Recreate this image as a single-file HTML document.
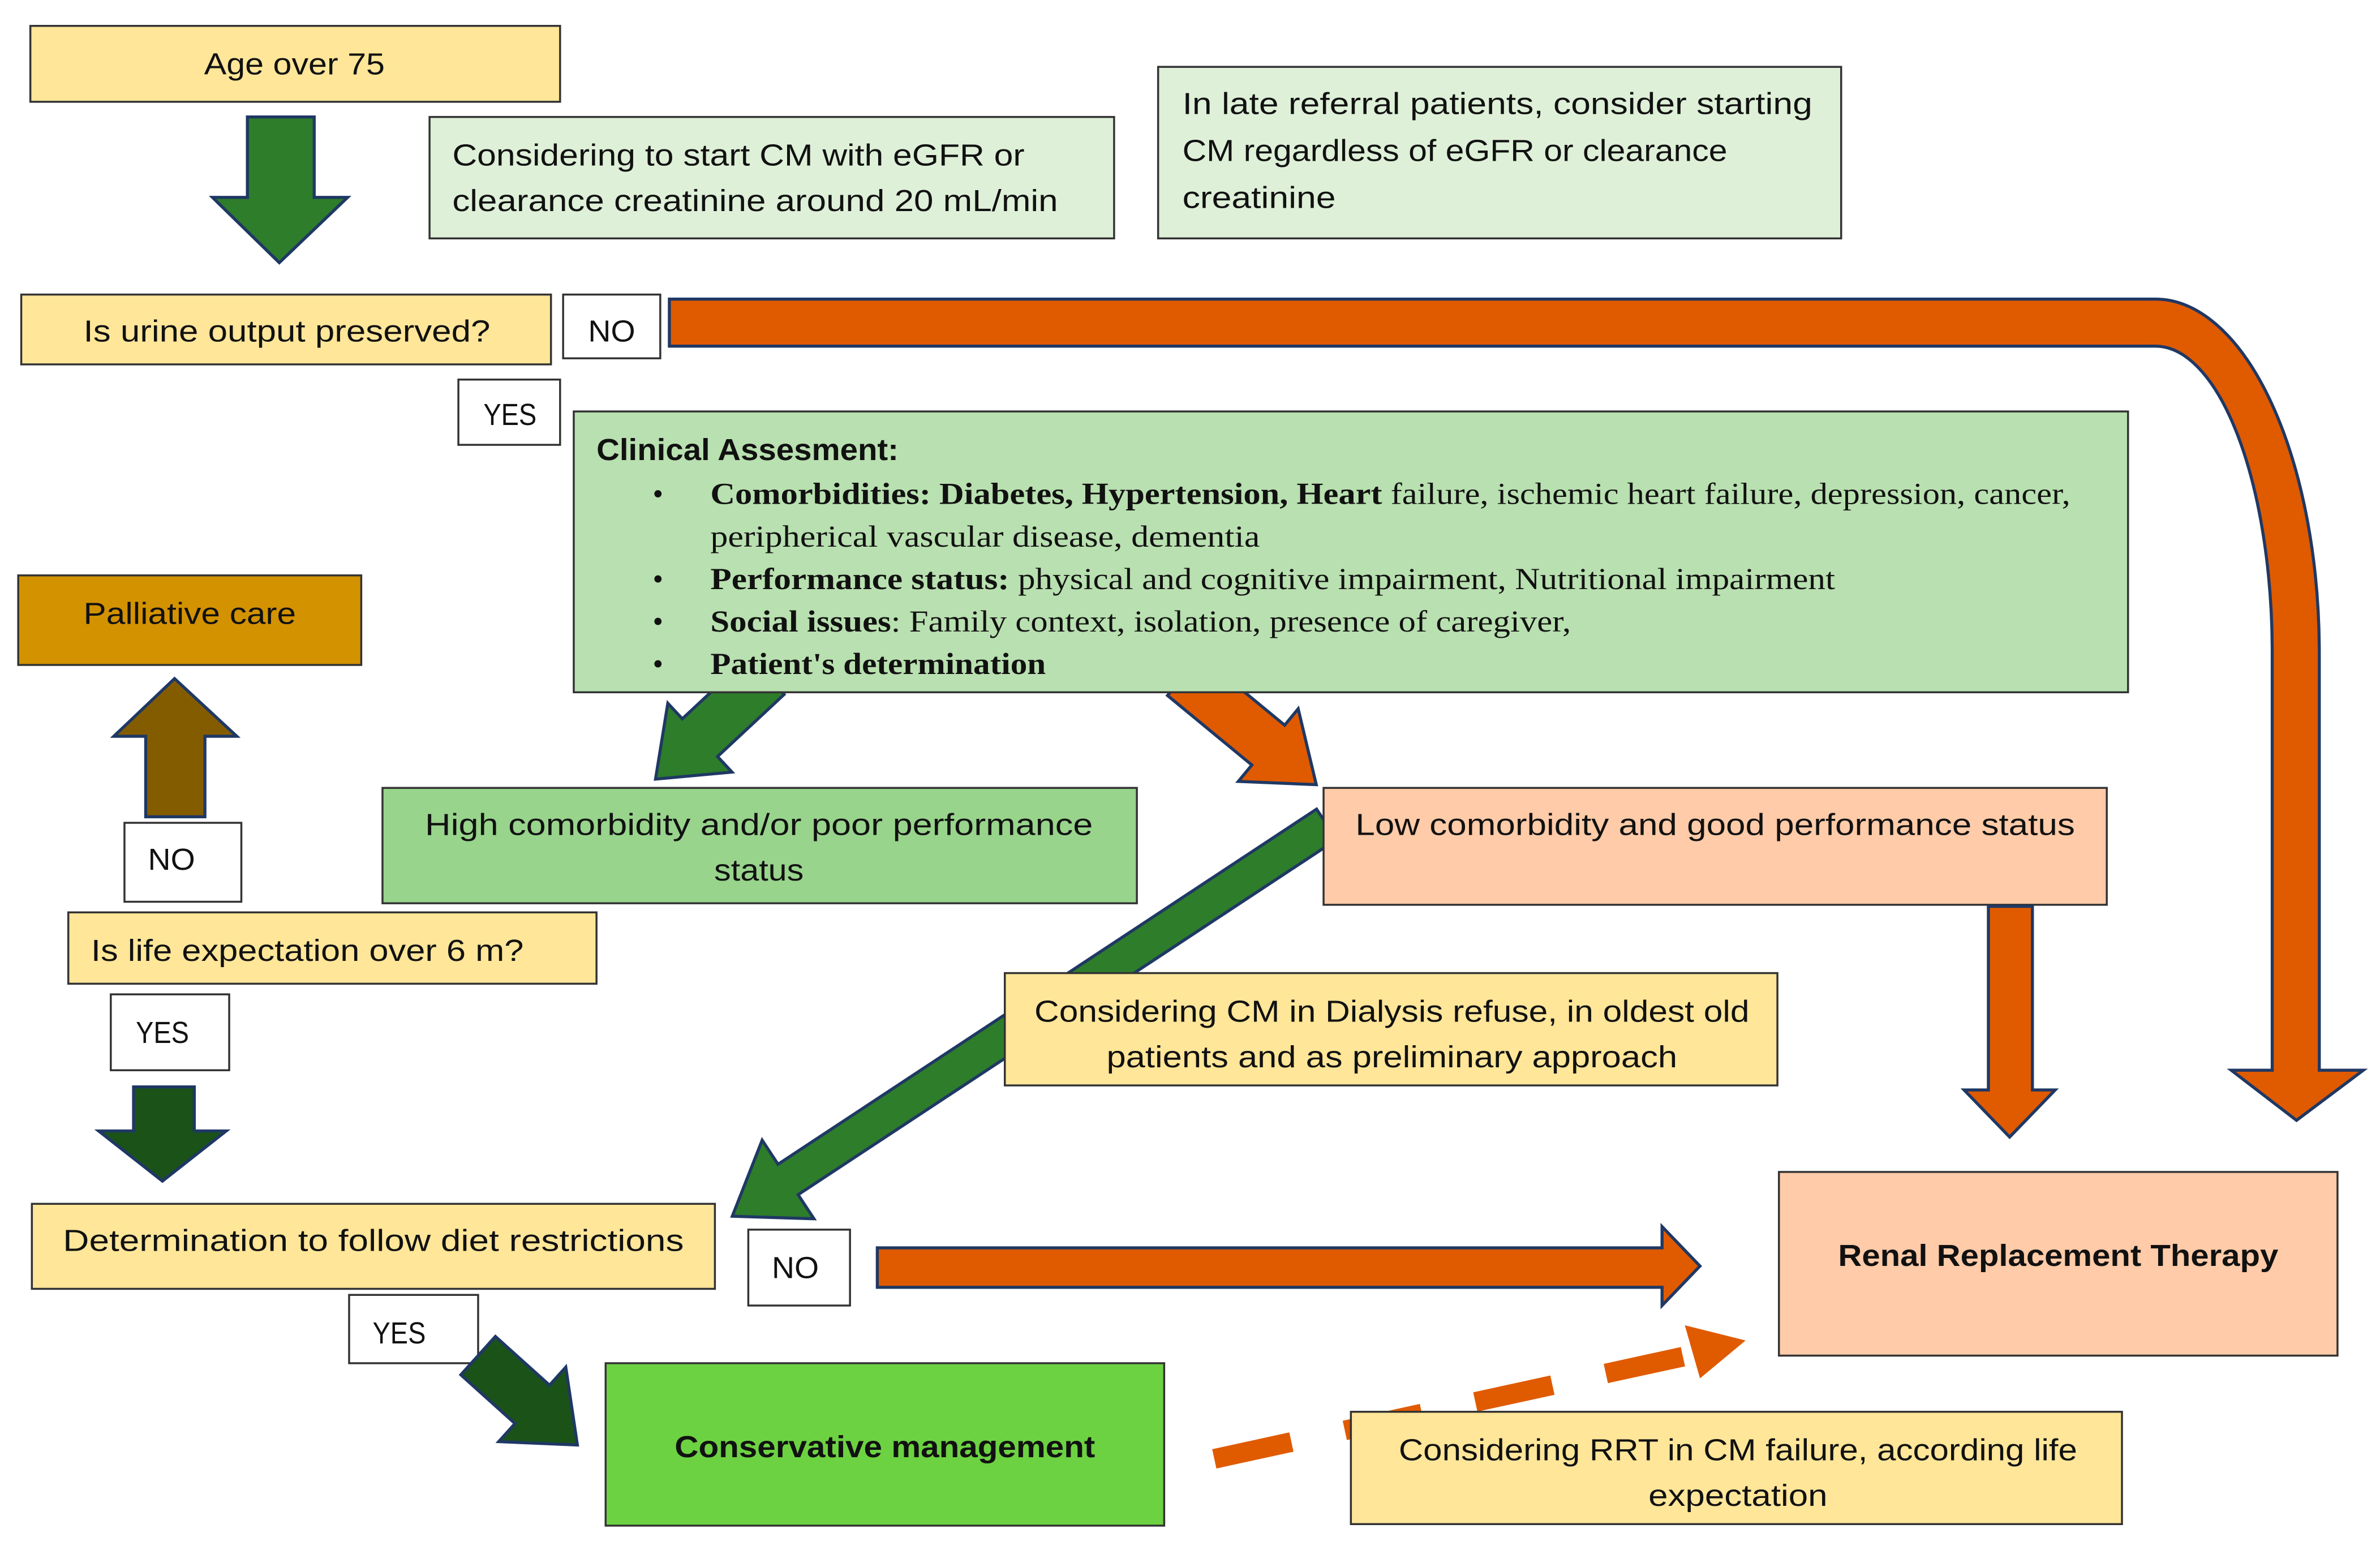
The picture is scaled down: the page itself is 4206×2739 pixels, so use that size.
<!DOCTYPE html>
<html><head><meta charset="utf-8"><style>
html,body{margin:0;padding:0;background:#fff;}
svg{display:block;}
text{font-family:"Liberation Sans",sans-serif;font-size:20px;fill:#111;}
.s{font-family:"Liberation Serif",serif;font-size:20px;}
.b{font-weight:bold;}
</style></head><body>
<svg width="4206" height="2739" viewBox="0 0 1568 1021" xmlns="http://www.w3.org/2000/svg">
<g stroke="#333" stroke-width="1.3">
<!-- Orange big curved arrow -->
<path d="M441,197 H1420 A108,233 0 0 1 1528,430 V705 H1557 L1513,738 L1470,705 H1497 V430 A77,202 0 0 0 1420,228 H441 Z" fill="#E05A00" stroke="#1F3864" stroke-width="2"/>
<!-- Age over 75 -->
<rect x="20" y="17" width="349" height="50" fill="#FFE699"/>
<polygon points="163,77 207,77 207,130 229,130 184,173 140,130 163,130" fill="#2E7D2A" stroke="#1F3864" stroke-width="2"/>
<rect x="283" y="77" width="451" height="80" fill="#DEF0D8"/>
<rect x="763" y="44" width="450" height="113" fill="#DEF0D8"/>
<rect x="14" y="194" width="349" height="46" fill="#FFE699"/>
<rect x="371" y="194" width="64" height="42" fill="#fff"/>
<rect x="302" y="250" width="67" height="43" fill="#fff"/>
<!-- arrows from clinical box -->
<g transform="translate(505,445) rotate(137)"><polygon points="0,-17 60,-17 60,-31 100,0 60,31 60,17 0,17" fill="#2E7D2A" stroke="#1F3864" stroke-width="2"/></g>
<g transform="translate(780,445) rotate(39.5)"><polygon points="0,-17 72,-17 72,-31 113,0 72,31 72,17 0,17" fill="#E05A00" stroke="#1F3864" stroke-width="2"/></g>
<rect x="378" y="271" width="1024" height="185" fill="#B9E0B0"/>
<rect x="12" y="379" width="226" height="59" fill="#D39200"/>
<polygon points="115,447 156,485 135,485 135,538 96,538 96,485 75,485" fill="#845C00" stroke="#1F3864" stroke-width="2"/>
<rect x="82" y="542" width="77" height="52" fill="#fff"/>
<rect x="252" y="519" width="497" height="76" fill="#98D48C"/>
<!-- long green arrow -->
<g transform="translate(874,543) rotate(146.6)"><polygon points="0,-12 425,-12 425,-31 469,0 425,31 425,12 0,12" fill="#2E7D2A" stroke="#1F3864" stroke-width="2"/></g>
<rect x="872" y="519" width="516" height="77" fill="#FFCBA8"/>
<rect x="662" y="641" width="509" height="74" fill="#FFE699"/>
<polygon points="1310,597 1339,597 1339,718 1354,718 1324,749 1294,718 1310,718" fill="#E05A00" stroke="#1F3864" stroke-width="2"/>
<rect x="45" y="601" width="348" height="47" fill="#FFE699"/>
<rect x="73" y="655" width="78" height="50" fill="#fff"/>
<polygon points="88,716 128,716 128,745 149,745 107,778 65,745 88,745" fill="#1B5218" stroke="#1F3864" stroke-width="2"/>
<rect x="21" y="793" width="450" height="56" fill="#FFE699"/>
<rect x="493" y="810" width="67" height="50" fill="#fff"/>
<polygon points="578,822 1095,822 1095,808 1120,834 1095,860 1095,848 578,848" fill="#E05A00" stroke="#1F3864" stroke-width="2"/>
<rect x="1172" y="772" width="368" height="121" fill="#FFCBA8"/>
<rect x="230" y="853" width="85" height="45" fill="#fff"/>
<g transform="translate(315,893) rotate(42)"><polygon points="0,-17 48,-17 48,-33 88,0 48,33 48,17 0,17" fill="#1B5218" stroke="#1F3864" stroke-width="2"/></g>
<rect x="399" y="898" width="368" height="107" fill="#6CD242"/>
<!-- dashed arrow -->
<line x1="800" y1="961" x2="1112" y2="893" stroke="#E05A00" stroke-width="13" stroke-dasharray="52,36" stroke-linecap="butt"/>
<polygon points="1110,873 1150,883 1120,908" fill="#E05A00" stroke="none"/>
<rect x="890" y="930" width="508" height="74" fill="#FFE699"/>
</g>

<text x="194" y="49" text-anchor="middle" textLength="119" lengthAdjust="spacingAndGlyphs">Age over 75</text>
<text x="298" y="109" textLength="377" lengthAdjust="spacingAndGlyphs">Considering to start CM with eGFR or</text>
<text x="298" y="139" textLength="399" lengthAdjust="spacingAndGlyphs">clearance creatinine around 20 mL/min</text>
<text x="779" y="75" textLength="415" lengthAdjust="spacingAndGlyphs">In late referral patients, consider starting</text>
<text x="779" y="106" textLength="359" lengthAdjust="spacingAndGlyphs">CM regardless of eGFR or clearance</text>
<text x="779" y="137" textLength="101" lengthAdjust="spacingAndGlyphs">creatinine</text>
<text x="189" y="225" text-anchor="middle" textLength="268" lengthAdjust="spacingAndGlyphs">Is urine output preserved?</text>
<text x="403" y="225" text-anchor="middle" textLength="31" lengthAdjust="spacingAndGlyphs">NO</text>
<text x="336" y="280" text-anchor="middle" textLength="35" lengthAdjust="spacingAndGlyphs">YES</text>
<text x="393" y="303" class="b" textLength="199" lengthAdjust="spacingAndGlyphs">Clinical Assesment:</text>
<g class="s">
<text x="430" y="332" class="s">•</text><text x="430" y="388" class="s">•</text><text x="430" y="416" class="s">•</text><text x="430" y="444" class="s">•</text>
<text x="468" y="332" class="s" textLength="896" lengthAdjust="spacingAndGlyphs"><tspan class="b">Comorbidities: Diabetes, Hypertension, Heart</tspan> failure, ischemic heart failure, depression, cancer,</text>
<text x="468" y="360" class="s" textLength="362" lengthAdjust="spacingAndGlyphs">peripherical vascular disease, dementia</text>
<text x="468" y="388" class="s" textLength="741" lengthAdjust="spacingAndGlyphs"><tspan class="b">Performance status:</tspan> physical and cognitive impairment, Nutritional impairment</text>
<text x="468" y="416" class="s" textLength="567" lengthAdjust="spacingAndGlyphs"><tspan class="b">Social issues</tspan>: Family context, isolation, presence of caregiver,</text>
<text x="468" y="444" class="s b" textLength="221" lengthAdjust="spacingAndGlyphs">Patient's determination</text>
</g>
<text x="125" y="411" text-anchor="middle" textLength="140" lengthAdjust="spacingAndGlyphs">Palliative care</text>
<text x="113" y="573" text-anchor="middle" textLength="31" lengthAdjust="spacingAndGlyphs">NO</text>
<text x="500" y="550" text-anchor="middle" textLength="440" lengthAdjust="spacingAndGlyphs">High comorbidity and/or poor performance</text>
<text x="500" y="580" text-anchor="middle" textLength="59" lengthAdjust="spacingAndGlyphs">status</text>
<text x="1130" y="550" text-anchor="middle" textLength="474" lengthAdjust="spacingAndGlyphs">Low comorbidity and good performance status</text>
<text x="917" y="673" text-anchor="middle" textLength="471" lengthAdjust="spacingAndGlyphs">Considering CM in Dialysis refuse, in oldest old</text>
<text x="917" y="703" text-anchor="middle" textLength="376" lengthAdjust="spacingAndGlyphs">patients and as preliminary approach</text>
<text x="60" y="633" textLength="285" lengthAdjust="spacingAndGlyphs">Is life expectation over 6 m?</text>
<text x="107" y="687" text-anchor="middle" textLength="35" lengthAdjust="spacingAndGlyphs">YES</text>
<text x="246" y="824" text-anchor="middle" textLength="409" lengthAdjust="spacingAndGlyphs">Determination to follow diet restrictions</text>
<text x="524" y="842" text-anchor="middle" textLength="31" lengthAdjust="spacingAndGlyphs">NO</text>
<text x="1356" y="834" text-anchor="middle" class="b" textLength="290" lengthAdjust="spacingAndGlyphs">Renal Replacement Therapy</text>
<text x="263" y="885" text-anchor="middle" textLength="35" lengthAdjust="spacingAndGlyphs">YES</text>
<text x="583" y="960" text-anchor="middle" class="b" textLength="277" lengthAdjust="spacingAndGlyphs">Conservative management</text>
<text x="1145" y="962" text-anchor="middle" textLength="447" lengthAdjust="spacingAndGlyphs">Considering RRT in CM failure, according life</text>
<text x="1145" y="992" text-anchor="middle" textLength="118" lengthAdjust="spacingAndGlyphs">expectation</text>
</svg>
</body></html>
